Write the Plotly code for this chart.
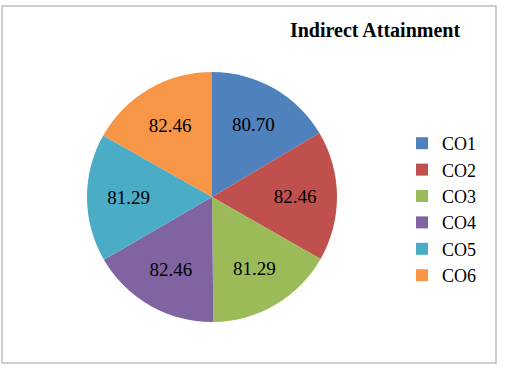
import plotly.graph_objects as go

categories = ["CO1", "CO2", "CO3", "CO4", "CO5", "CO6"]
values = [80.70, 82.46, 81.29, 82.46, 81.29, 82.46]
colors = ["#4F81BD", "#C0504D", "#9BBB59", "#8064A2", "#4BACC6", "#F79646"]

W, H = 506, 378
SERIF = "Times New Roman, Liberation Serif, serif"

fig = go.Figure(go.Pie(
    labels=categories,
    values=values,
    sort=False,
    direction="clockwise",
    rotation=0,
    marker=dict(colors=colors, line=dict(width=0)),
    texttemplate="%{value:.2f}",
    textposition="inside",
    insidetextorientation="horizontal",
    textfont=dict(family=SERIF, size=19, color="#000000"),
    domain=dict(x=[87 / W, 337 / W], y=[(H - 322) / H, (H - 72) / H]),
    hoverinfo="label+value",
))

fig.update_layout(
    width=W, height=H,
    margin=dict(l=0, r=0, t=0, b=0),
    paper_bgcolor="white",
    plot_bgcolor="white",
    font=dict(family=SERIF, color="#000000"),
    title=dict(text="<b>Indirect Attainment</b>", x=375 / W, xanchor="center",
               y=1 - 30 / H, yanchor="middle",
               font=dict(family=SERIF, size=20, color="#000000")),
    legend=dict(x=402 / W, xanchor="left", y=1 - 125 / H, yanchor="top",
                font=dict(family=SERIF, size=18, color="#000000"),
                itemwidth=30, tracegroupgap=0, bgcolor="rgba(0,0,0,0)"),
    shapes=[dict(type="rect", xref="paper", yref="paper",
                 x0=2 / W, x1=496 / W, y0=(H - 363) / H, y1=(H - 6) / H,
                 line=dict(color="#BFBFBF", width=1.5), fillcolor="rgba(0,0,0,0)")],
)

fig.write_html("out.html")
